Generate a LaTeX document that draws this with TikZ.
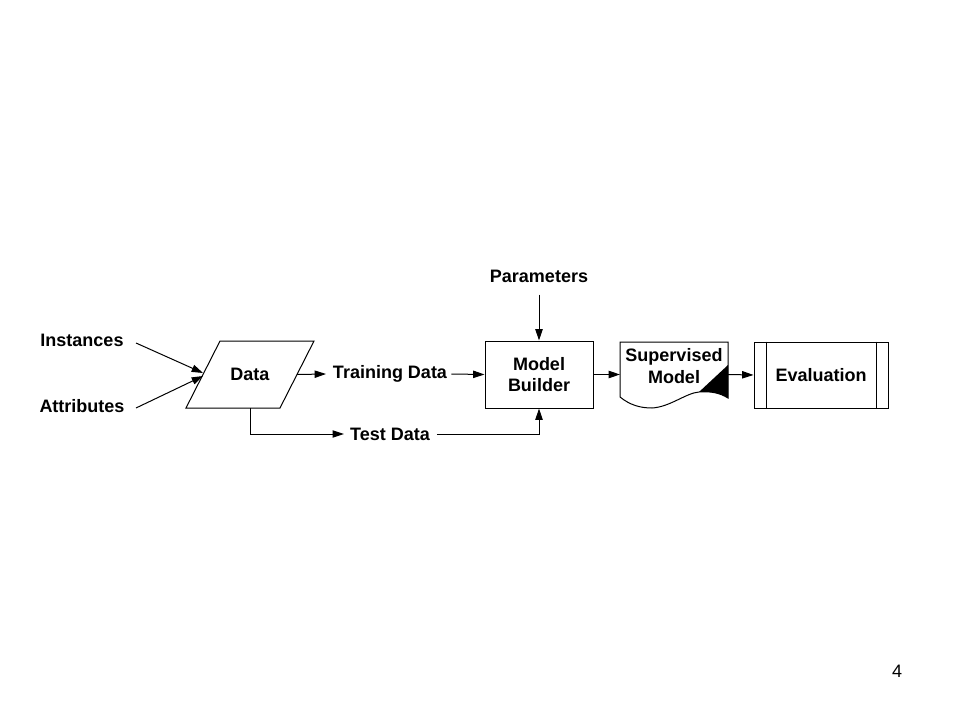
\documentclass[tikz,border=0pt]{standalone}
\usepackage{fontspec}
\setmainfont{Liberation Sans}
\usetikzlibrary{arrows.meta,positioning}
\begin{document}
\begin{tikzpicture}[x=0.75pt,y=-0.75pt,
  lbl/.style={font=\bfseries\fontsize{13.5pt}{16pt}\selectfont, inner sep=0pt, align=center},
  arr/.style={line width=0.75pt,-{Triangle[length=8.5pt,width=5.5pt]}},
  ln/.style={line width=0.75pt},
  boxnode/.style={draw, line width=0.75pt, inner sep=0pt, align=center, font=\bfseries\fontsize{13.5pt}{16pt}\selectfont}]
\useasboundingbox[fill=white] (0,0) rectangle (960,720);

% labels
\node[lbl] (inst) at (82,340) {Instances};
\node[lbl] (attr) at (82,406) {Attributes};
\node[lbl] (param) at (539,276) {Parameters};
\node[lbl] (train) at (390,374) {Training Data};
\node[lbl] (test) at (390,434) {Test Data};

% Data parallelogram
\coordinate (dTL) at (220,341);
\coordinate (dTR) at (314,341);
\coordinate (dBR) at (280,408);
\coordinate (dBL) at (186,408);
\draw[ln] (dTL) -- (dTR) -- (dBR) -- (dBL) -- cycle;
\node[lbl] (data) at (250,374.5) {Data};
\coordinate (dL) at (203,374.5);
\coordinate (dR) at (297,374.5);
\coordinate (dB) at (250,408);

% Model builder
\node[boxnode, minimum width=81pt, minimum height=50.25pt] (mb) at (539,374.5) {Model\\Builder};

% Supervised model (document shape)
\coordinate (smTL) at (620,342);
\coordinate (smTR) at (728,342);
\draw[ln] (smTL) -- (smTR) -- (728,398)
  .. controls (720,393) and (711,391) .. (699,392)
  .. controls (686,393) and (670,407) .. (652,408)
  .. controls (640,408) and (630,405) .. (620,397) -- cycle;
\fill (728,365) -- (699,392) .. controls (711,391) and (720,393) .. (728,398) -- cycle;
\node[lbl] (sm) at (674,366) {Supervised\\Model};
\coordinate (smL) at (620,374.5);
\coordinate (smR) at (728,374.5);

% Evaluation
\node[boxnode, minimum width=100.5pt, minimum height=49.5pt] (ev) at (821,375) {Evaluation};
\draw[ln] ([xshift=9.75pt]ev.north west) -- ([xshift=9.75pt]ev.south west);
\draw[ln] ([xshift=-9pt]ev.north east) -- ([xshift=-9pt]ev.south east);

% connectors
\coordinate (instS) at (136,343);
\coordinate (attrS) at (136,408);
\draw[arr] (instS) -- (203,373);
\draw[arr] (attrS) -- (203,376);
\draw[arr] (dR) -- (train.west -| 326,0);
\draw[arr] ([xshift=3pt]train.east) -- (mb.west);
\draw[ln] (dB) |- (test.west -| 250,0) coordinate (tc);
\draw[arr] (tc) -- ([xshift=-4.5pt]test.west);
\draw[arr] ([xshift=5pt]test.east) -| (mb.south);
\draw[arr] ([yshift=-9pt]param.south) -- (mb.north);
\draw[arr] (mb.east) -- (smL);
\draw[arr] (smR) -- (ev.west);

\node[font=\fontsize{13.5pt}{16pt}\selectfont, inner sep=0pt] (pg) at (897,671) {4};
\end{tikzpicture}
\end{document}
